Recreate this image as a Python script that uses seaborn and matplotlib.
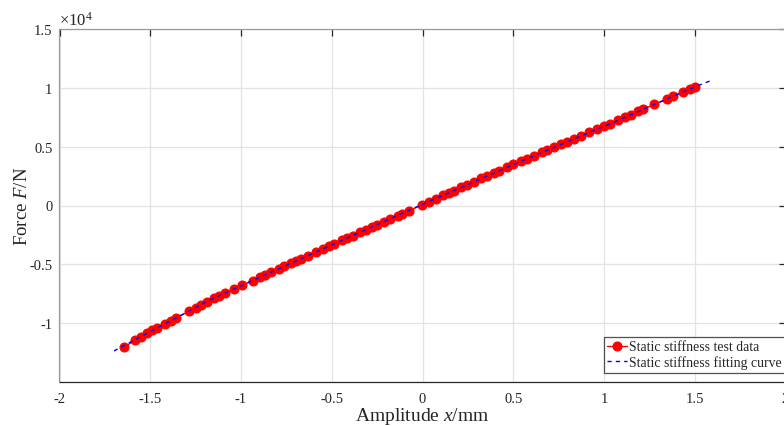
import numpy as np
import pandas as pd
import matplotlib
matplotlib.use("Agg")
import matplotlib.pyplot as plt
import seaborn as sns

# Static stiffness test data (amplitude in mm, force in N)
amplitude = [-1.644, -1.583, -1.550, -1.518, -1.491, -1.463, -1.418, -1.386, -1.357, -1.284,
             -1.247, -1.219, -1.188, -1.151, -1.120, -1.087, -1.037, -0.994, -0.934, -0.894,
             -0.866, -0.835, -0.793, -0.761, -0.724, -0.695, -0.669, -0.633, -0.585, -0.550,
             -0.517, -0.485, -0.443, -0.415, -0.382, -0.342, -0.314, -0.277, -0.250, -0.210,
             -0.177, -0.136, -0.112, -0.076, -0.002, 0.035, 0.072, 0.114, 0.145, 0.173,
             0.213, 0.247, 0.283, 0.324, 0.353, 0.393, 0.421, 0.467, 0.500, 0.541,
             0.574, 0.614, 0.660, 0.684, 0.724, 0.765, 0.798, 0.835, 0.872, 0.917,
             0.964, 1.000, 1.033, 1.077, 1.114, 1.147, 1.188, 1.215, 1.276, 1.346,
             1.381, 1.438, 1.474, 1.502]
force = [-12050, -11450, -11170, -10850, -10600, -10410, -10060, -9790, -9555, -8980,
         -8680, -8470, -8190, -7886, -7670, -7440, -7092, -6793, -6375, -6097,
         -5902, -5686, -5394, -5171, -4914, -4712, -4531, -4280, -3949, -3709,
         -3482, -3262, -2974, -2781, -2555, -2280, -2088, -1833, -1648, -1373,
         -1146, -865, -700, -452, 57, 311, 566, 855, 1068, 1261,
         1537, 1771, 2018, 2301, 2500, 2776, 2968, 3285, 3506, 3772,
         3986, 4246, 4544, 4700, 4959, 5225, 5439, 5679, 5919, 6211,
         6516, 6749, 6963, 7256, 7504, 7724, 7998, 8179, 8586, 9054,
         9288, 9669, 9909, 10097]

# Static stiffness fitting curve
fit_x = [-1.70, -1.17, -0.62, -0.07, 0.49, 1.04, 1.50, 1.60]
fit_y = [-12360, -8010, -4180, -380, 3410, 6990, 10080, 10680]

x_ticks = [-2, -1.5, -1, -0.5, 0, 0.5, 1, 1.5, 2]
x_tick_labels = ["-2", "-1.5", "-1", "-0.5", "0", "0.5", "1", "1.5", "2"]
y_ticks = [-10000, -5000, 0, 5000, 10000, 15000]
y_tick_labels = ["-1", "-0.5", "0", "0.5", "1", "1.5"]

sns.set_theme(style="white")
plt.rcParams["font.family"] = ["Liberation Serif", "DejaVu Serif"]
plt.rcParams["mathtext.fontset"] = "custom"
plt.rcParams["mathtext.rm"] = "Liberation Serif"
plt.rcParams["mathtext.it"] = "Liberation Serif:italic"

data_df = pd.DataFrame({"x": amplitude, "y": force})
fit_df = pd.DataFrame({"x": fit_x, "y": fit_y})

fig = plt.figure(figsize=(7.84, 4.27), dpi=100)
ax = fig.add_axes([59.5 / 784, (427 - 383) / 427, (785.5 - 59.5) / 784, (383 - 30) / 427])

sns.lineplot(data=data_df, x="x", y="y", ax=ax, color="#ff0000", marker="o",
             markersize=6.5, markeredgecolor="#ff0000", linewidth=1.0, sort=False,
             label="Static stiffness test data")
sns.lineplot(data=fit_df, x="x", y="y", ax=ax, color="#0000ff", linewidth=1.0,
             linestyle=(0, (3, 3)), sort=False, label="Static stiffness fitting curve")

ax.set_xlim(-2, 2)
ax.set_ylim(-15000, 15000)
ax.set_xticks(x_ticks)
ax.set_xticklabels(x_tick_labels, fontsize=10.5, color="#262626")
ax.set_yticks(y_ticks)
ax.set_yticklabels(y_tick_labels, fontsize=10.5, color="#262626")
ax.grid(True, color="#e3e3e3", linewidth=0.9)
ax.set_axisbelow(True)
ax.tick_params(direction="in", length=5, width=0.9, top=True, right=True,
               colors="#262626")
ax.tick_params(axis="y", pad=5)
ax.tick_params(axis="x", pad=7)

ax.spines["bottom"].set_color("#262626")
ax.spines["left"].set_color("#9a9a9a")
ax.spines["top"].set_color("#9a9a9a")
ax.spines["right"].set_color("#9a9a9a")
for s in ax.spines.values():
    s.set_linewidth(0.9)

ax.set_xlabel(r"Amplitude $x$/mm", fontsize=14, color="#262626", labelpad=0)
ax.set_ylabel(r"Force $F$/N", fontsize=13.5, color="#262626", labelpad=-1)
ax.text(0.0, 1.0, r"$\times 10^4$", transform=ax.transAxes, fontsize=12,
        ha="left", va="bottom", color="#262626")

leg = ax.legend(loc="upper left", bbox_to_anchor=(604 / 784, 1 - 338 / 427),
                bbox_transform=fig.transFigure, fontsize=9.9, frameon=True,
                fancybox=False, borderpad=0.25, labelspacing=0.15, handlelength=1.4,
                handletextpad=0.15, borderaxespad=0)
leg.get_frame().set_edgecolor("#262626")
leg.get_frame().set_linewidth(0.9)

fig.savefig("out.png", dpi=100)
